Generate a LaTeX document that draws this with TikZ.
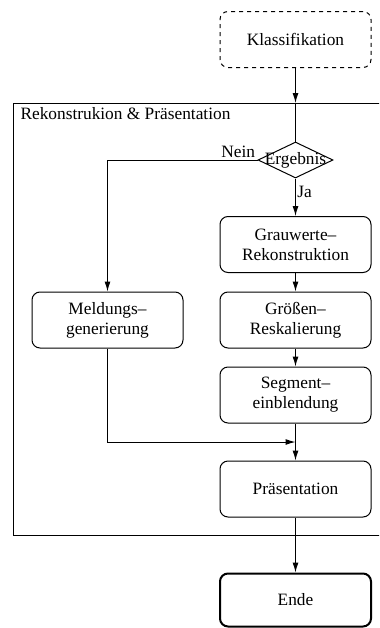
\documentclass[tikz,border=0pt]{standalone}
\usepackage{fontspec}
\setmainfont{Liberation Serif}
\usetikzlibrary{arrows.meta,shapes.geometric}

\tikzset{every picture/.style={line width=0.75pt}}
\tikzset{
  stepbox/.style={draw, rounded corners=6pt, minimum width=113.25pt, minimum height=42pt, align=center, inner sep=0.75pt},
  decision/.style={draw, diamond, minimum width=56.25pt, minimum height=27pt, inner sep=0pt},
  flow/.style={-{Latex[length=7.5pt,width=4.5pt]}}
}

\begin{document}
\begin{tikzpicture}[x=0.75pt,y=0.75pt,yscale=-1,xscale=1,font=\fontsize{13}{15}\selectfont]
\useasboundingbox (0,0) rectangle (379,628);
\clip (0,0) rectangle (379,628);

%Shape: Frame Rectangle
\draw   (13,103) rectangle (420,535) ;
% Text Node
\node [anchor=north west, inner sep=0.75pt] (title) at (19,106) {Rekonstrukion \& Präsentation};

%Shape: Rounded Rect
\node [stepbox, dashed] (klass) at (295.5,39.5) {Klassifikation};
%Shape: Diamond
\node [decision, label={center:Ergebnis}] (erg) at (295.5,160) {};
%Shape: Rounded Rect
\node [stepbox] (grau) at (295.5,244.5) {Grauwerte--\\Rekonstruktion};
\node [stepbox] (groe) at (295.5,320) {Größen--\\Reskalierung};
\node [stepbox] (seg) at (295.5,395) {Segment--\\einblendung};
\node [stepbox] (meld) at (107.5,320) {Meldungs--\\generierung};
\node [stepbox] (praes) at (295.5,489) {Präsentation};
\node [stepbox, line width=1.5pt, minimum height=39.75pt] (ende) at (295.5,600) {Ende};

\coordinate (entry) at (295.5,103);
\coordinate (merge) at (295.5,442);

%Straight Lines
\draw [flow]   (klass) -- (entry) ;
\draw    (entry) -- (erg.north) ;
\draw [flow]   (erg.west) -| (meld.north) ;
\draw [flow]   (erg.south) -- (grau.north) ;
\draw [flow]   (grau) -- (groe) ;
\draw [flow]   (groe) -- (seg) ;
\draw [flow]   (seg) -- (praes) ;
\draw [flow]   (meld.south) |- (merge) ;
\draw [flow]   (praes) -- (ende) ;

% Text Node
\node [anchor=south east, inner sep=1.5pt] (nein) at (erg.west) {Nein};
% Text Node
\node [anchor=north west, inner sep=1pt, yshift=-4pt] (ja) at (erg.south) {Ja};

\end{tikzpicture}
\end{document}
